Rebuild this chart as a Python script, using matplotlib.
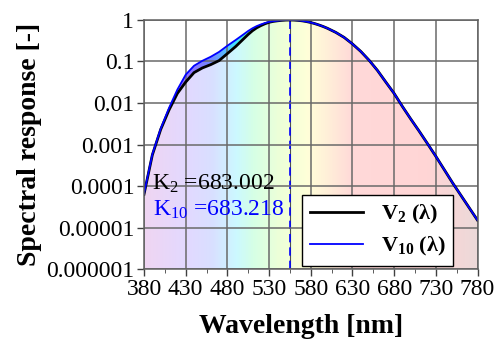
import numpy as np
import matplotlib
matplotlib.use("Agg")
from matplotlib import pyplot as plt
from matplotlib.colors import LinearSegmentedColormap

plt.rcParams['font.family'] = ['Liberation Serif', 'DejaVu Serif']
plt.rcParams['mathtext.fontset'] = 'custom'
plt.rcParams['mathtext.rm'] = 'Liberation Serif'
plt.rcParams['mathtext.bf'] = 'Liberation Serif:bold'
plt.rcParams['mathtext.it'] = 'Liberation Serif:italic'

# data
wavelength = [380, 390, 400, 410, 420, 430, 440, 450, 460, 470, 480, 490, 500,
              505, 510, 515, 520, 525, 530, 535, 540, 545, 550, 555, 560, 565,
              570, 575, 580, 585, 590, 595, 600, 610, 620, 630, 640, 650, 660,
              670, 680, 690, 700, 710, 720, 730, 740, 750, 760, 770, 780]
v2 = [6.3e-5, 5.6e-4, 2.3e-3, 6.8e-3, 0.017, 0.032, 0.054, 0.070, 0.084, 0.105,
      0.155, 0.23, 0.36, 0.45, 0.55, 0.645, 0.73, 0.81, 0.88, 0.925, 0.955,
      0.98, 0.995, 1.0, 0.995, 0.979, 0.952, 0.915, 0.87, 0.816, 0.757, 0.695,
      0.631, 0.503, 0.381, 0.265, 0.175, 0.107, 0.061, 0.032, 0.017, 0.0082,
      0.0041, 0.0021, 0.00105, 0.00052, 0.00025, 0.00012, 6.0e-5, 3.0e-5,
      1.5e-5]
v10 = [6.5e-5, 5.8e-4, 2.4e-3, 7.6e-3, 0.021, 0.048, 0.079, 0.104, 0.13, 0.17,
       0.24, 0.33, 0.46, 0.545, 0.63, 0.71, 0.78, 0.845, 0.90, 0.935, 0.96,
       0.985, 0.996, 1.0, 0.995, 0.979, 0.952, 0.915, 0.87, 0.816, 0.757, 0.695,
       0.631, 0.503, 0.381, 0.265, 0.175, 0.107, 0.061, 0.032, 0.017, 0.0082,
       0.0041, 0.0021, 0.00105, 0.00052, 0.00025, 0.00012, 6.0e-5, 3.0e-5,
       1.5e-5]
k2_text = "683.002"
k10_text = "683.218"

fig = plt.figure(figsize=(5, 3.43), dpi=100)
ax = fig.add_axes([0.288, 0.2157, 0.667, 0.726])
ax.set_yscale('log')

# spectrum colours for the background gradient
stops = [(0.0, '#b030c0'), (0.125, '#7040ff'), (0.2, '#4060ff'),
         (0.275, '#00e0ff'), (0.325, '#30ff80'), (0.4, '#a0ff40'),
         (0.49, '#ffff40'), (0.55, '#ffb040'), (0.625, '#ff4040'),
         (0.85, '#ff3030'), (1.0, '#a04040')]
spec = LinearSegmentedColormap.from_list('spec', stops)
rgb = spec(np.linspace(0, 1, 400))[None, :, :3]
pastel = 0.2 * rgb + 0.8

ext = [380, 780, 1e-6, 1]
under = ax.fill_between(wavelength, 1e-6, v2, facecolor='none', edgecolor='none')
im1 = ax.imshow(pastel, extent=ext, aspect='auto', origin='lower',
                interpolation='bilinear', zorder=0)
im1.set_clip_path(under.get_paths()[0], ax.transData)

between = ax.fill_between(wavelength, v2, v10, facecolor='none', edgecolor='none')
im2 = ax.imshow(rgb, extent=ext, aspect='auto', origin='lower',
                interpolation='bilinear', alpha=0.75, zorder=0.5)
im2.set_clip_path(between.get_paths()[0], ax.transData)

ax.grid(True, which='major', color='#6a6a6a', lw=1.1, zorder=1)
ax.set_axisbelow(False)

ax.axvline(555, color='#505050', lw=0.8, zorder=2)
ax.axvline(555, color='#0000ff', lw=1.2, ls=(0, (5, 3)), zorder=2.5)

ax.plot(wavelength, v2, color='black', lw=2.0, label=r'V$_{\mathbf{2}}$ (λ)', zorder=3)
ax.plot(wavelength, v10, color='#0000ff', lw=1.3, label=r'V$_{\mathbf{10}}$ (λ)', zorder=4)

ax.set_xlim(380, 780)
ax.set_ylim(1e-6, 1)
ax.set_xticks(range(380, 781, 50))
ax.set_xticks(range(405, 781, 50), minor=True)
yt = [1e-6, 1e-5, 1e-4, 1e-3, 1e-2, 1e-1, 1]
ax.set_yticks(yt)
ax.set_yticklabels(['0.000001', '0.00001', '0.0001', '0.001', '0.01', '0.1', '1'])
ax.tick_params(axis='both', which='major', labelsize=17, direction='out',
               length=5, width=1, color='#404040', pad=2)
ax.tick_params(axis='x', which='minor', direction='out', length=3, color='#404040')
ax.tick_params(axis='y', which='minor', direction='in', length=3, color='#404040')
ax.tick_params(axis='y', which='minor', labelleft=False)
for s in ax.spines.values():
    s.set_color('#606060')
    s.set_linewidth(1.1)
    s.set_zorder(5)

ax.text(389, 1.15e-4, r'K$_2$ =' + k2_text, fontsize=17, color='black', va='center', zorder=6)
ax.text(391, 2.7e-5, r'K$_{10}$ =' + k10_text, fontsize=17, color='#0000ff', va='center', zorder=6)

leg = ax.legend(loc='lower right', bbox_to_anchor=(0.937, 0.0), fancybox=False,
                edgecolor='black', framealpha=1, handlelength=2.4,
                prop={'family': 'Liberation Serif', 'weight': 'bold', 'size': 16},
                borderpad=0.35, labelspacing=0.4, borderaxespad=0.15)
leg.get_frame().set_linewidth(1.0)
leg.set_zorder(7)

ax.set_xlabel('Wavelength [nm]', fontsize=20, fontweight='bold', labelpad=10)
ax.xaxis.label.set_x(0.47)
ax.set_ylabel('Spectral response [-]', fontsize=20, fontweight='bold', labelpad=3)

fig.savefig('out.png', dpi=100)
